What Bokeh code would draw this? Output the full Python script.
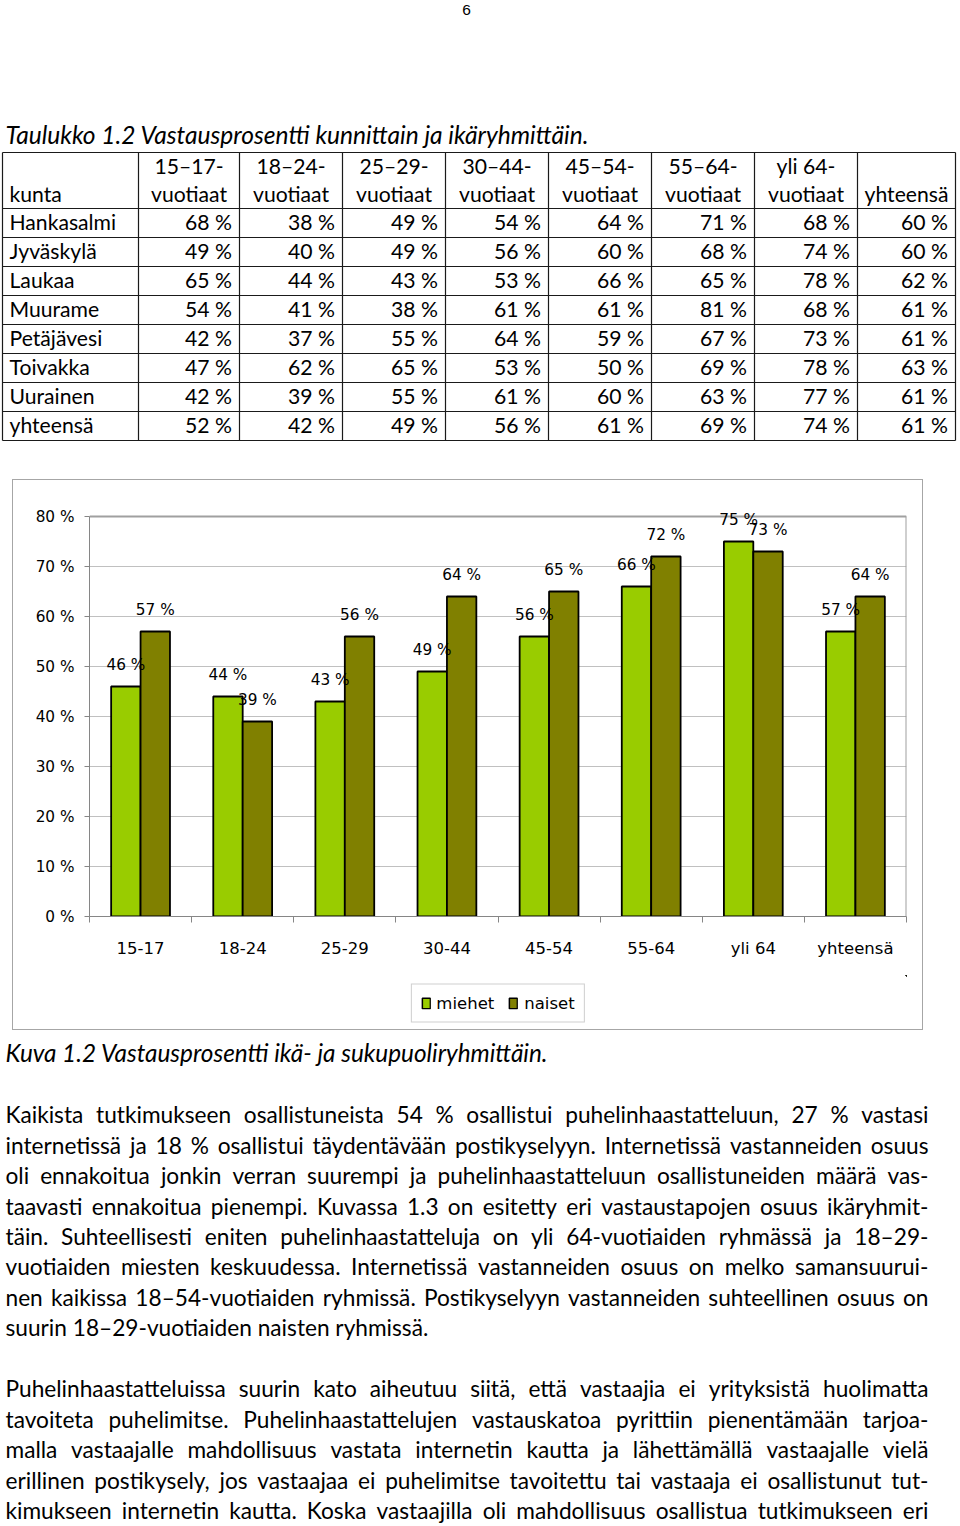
import glob
import os
import subprocess

import numpy as np
from bokeh.plotting import figure
from bokeh.layouts import column
from bokeh.models import (Range1d, FixedTicker, ColumnDataSource, LabelSet,
                          Legend, LegendItem, InlineStyleSheet)
from bokeh.core.properties import value
from bokeh.embed import file_html
from bokeh.resources import INLINE

# ------------------------------------------------------------------ data
page_number = "6"
table_caption = "Taulukko 1.2 Vastausprosentti kunnittain ja ikäryhmittäin."
header_top = ["", "15–17-", "18–24-", "25–29-", "30–44-", "45–54-", "55–64-", "yli 64-", ""]
header_bottom = ["kunta", "vuotiaat", "vuotiaat", "vuotiaat", "vuotiaat",
                 "vuotiaat", "vuotiaat", "vuotiaat", "yhteensä"]
kunnat = ["Hankasalmi", "Jyväskylä", "Laukaa", "Muurame", "Petäjävesi",
          "Toivakka", "Uurainen", "yhteensä"]
v15_17 = [68, 49, 65, 54, 42, 47, 42, 52]
v18_24 = [38, 40, 44, 41, 37, 62, 39, 42]
v25_29 = [49, 49, 43, 38, 55, 65, 55, 49]
v30_44 = [54, 56, 53, 61, 64, 53, 61, 56]
v45_54 = [64, 60, 66, 61, 59, 50, 60, 61]
v55_64 = [71, 68, 65, 81, 67, 69, 63, 69]
v_yli64 = [68, 74, 78, 68, 73, 78, 77, 74]
v_yht = [60, 60, 62, 61, 61, 63, 61, 61]
table_columns = [v15_17, v18_24, v25_29, v30_44, v45_54, v55_64, v_yli64, v_yht]

age_groups = ["15-17", "18-24", "25-29", "30-44", "45-54", "55-64", "yli 64", "yhteensä"]
miehet = [46, 44, 43, 49, 56, 66, 75, 57]
naiset = [57, 39, 56, 64, 65, 72, 73, 64]
series_names = ["miehet", "naiset"]
y_ticks = [0, 10, 20, 30, 40, 50, 60, 70, 80]

figure_caption = "Kuva 1.2 Vastausprosentti ikä- ja sukupuoliryhmittäin."
paragraph1 = [
    "Kaikista tutkimukseen osallistuneista 54 % osallistui puhelinhaastatteluun, 27 % vastasi",
    "internetissä ja 18 % osallistui täydentävään postikyselyyn. Internetissä vastanneiden osuus",
    "oli ennakoitua jonkin verran suurempi ja puhelinhaastatteluun osallistuneiden määrä vas-",
    "taavasti ennakoitua pienempi. Kuvassa 1.3 on esitetty eri vastaustapojen osuus ikäryhmit-",
    "täin. Suhteellisesti eniten puhelinhaastatteluja on yli 64-vuotiaiden ryhmässä ja 18–29-",
    "vuotiaiden miesten keskuudessa. Internetissä vastanneiden osuus on melko samansuurui-",
    "nen kaikissa 18–54-vuotiaiden ryhmissä. Postikyselyyn vastanneiden suhteellinen osuus on",
    "suurin 18–29-vuotiaiden naisten ryhmissä.",
]
paragraph2 = [
    "Puhelinhaastatteluissa suurin kato aiheutuu siitä, että vastaajia ei yrityksistä huolimatta",
    "tavoiteta puhelimitse. Puhelinhaastattelujen vastauskatoa pyrittiin pienentämään tarjoa-",
    "malla vastaajalle mahdollisuus vastata internetin kautta ja lähettämällä vastaajalle vielä",
    "erillinen postikysely, jos vastaajaa ei puhelimitse tavoitettu tai vastaaja ei osallistunut tut-",
    "kimukseen internetin kautta. Koska vastaajilla oli mahdollisuus osallistua tutkimukseen eri",
]

# ------------------------------------------------------------------ font metrics (for justification)
def _find_font(filenames, pattern):
    roots = ["/usr/share/fonts", "/usr/local/share/fonts",
             os.path.expanduser("~/.fonts"), os.path.expanduser("~/.local/share/fonts")]
    for fn in filenames:
        for r in roots:
            hits = glob.glob(os.path.join(r, "**", fn), recursive=True)
            if hits:
                return hits[0]
    try:
        out = subprocess.run(["fc-match", "-f", "%{file}", pattern], capture_output=True,
                             text=True, timeout=10).stdout.strip()
        if out and os.path.exists(out) and "lato" in out.lower():
            return out
    except Exception:
        pass
    return None


def _measurer(path):
    if path is None:
        return None
    try:
        from PIL import ImageFont
        f = ImageFont.truetype(path, 400)
        return lambda s, size: f.getlength(s) * size / 400.0
    except Exception:
        return None


meas_r = _measurer(_find_font(["Lato-Regular.ttf"], "Lato:style=Regular"))
meas_i = _measurer(_find_font(["Lato-Italic.ttf"], "Lato:style=Italic")) or meas_r


def fit(meas, text, target, default):
    if meas is None:
        return default
    w = meas(text, 100.0)
    return 100.0 * target / w if w > 0 else default


table_fs = float(np.mean([fit(meas_r, "Hankasalmi", 106, 20.5),
                          fit(meas_r, "Petäjävesi", 92, 20.5),
                          fit(meas_r, "vuotiaat", 77, 20.5),
                          fit(meas_r, "yhteensä", 84, 20.5)]))
para_fs = fit(meas_r, paragraph1[-1], 423, 20.5)
cap1_fs = fit(meas_i, table_caption, 583, 21)
cap2_fs = fit(meas_i, figure_caption, 542, 21)


def base(y, fs):
    """Anchor y for a wanted baseline y (the renderer sits text ~0.39 em low)."""
    return y - 0.39 * fs


TEXT_FONT = "Lato"
CHART_FONT = "DejaVu Sans"
PAGE_W = 958
COL_M, COL_N = "#99CC00", "#808000"

# ------------------------------------------------------------------ top part: caption + table
TOP_H = 479
top = figure(width=PAGE_W, height=TOP_H, x_range=Range1d(0, PAGE_W), y_range=Range1d(TOP_H, 0),
             output_backend="svg", toolbar_location=None, min_border=0,
             x_axis_location=None, y_axis_location=None)
top.grid.visible = False
top.outline_line_color = None

top.text(x=[466], y=[base(16, 15.5)], text=[page_number], text_font=value("Liberation Sans"),
         text_font_size=value("15.5px"), text_align="center", text_baseline="alphabetic",
         text_color="black")
top.text(x=[5], y=[base(143.5, cap1_fs)], text=[table_caption], text_font=value(TEXT_FONT),
         text_font_style="italic", text_font_size=value(f"{cap1_fs:.2f}px"),
         text_align="left", text_baseline="alphabetic", text_color="black")

col_edges = [2, 138, 239, 342, 445, 548, 651, 754, 857, 955]
row_edges = [152, 208, 237, 266, 295, 324, 353, 382, 411, 440]

seg = dict(x0=[], y0=[], x1=[], y1=[])
for y in row_edges:
    seg["x0"].append(col_edges[0]); seg["x1"].append(col_edges[-1]); seg["y0"].append(y); seg["y1"].append(y)
for x in col_edges:
    seg["x0"].append(x); seg["x1"].append(x); seg["y0"].append(row_edges[0]); seg["y1"].append(row_edges[-1])
top.segment(x0="x0", y0="y0", x1="x1", y1="y1", source=ColumnDataSource(seg),
            line_color="#1a1a1a", line_width=1.2)

hx, hy, ht, ha = [], [], [], []
for j in range(len(col_edges) - 1):
    cx = (col_edges[j] + col_edges[j + 1]) / 2
    if header_top[j]:
        hx.append(cx); hy.append(base(173.5, table_fs)); ht.append(header_top[j]); ha.append("center")
    if j == 0:
        hx.append(9); hy.append(base(201.5, table_fs)); ht.append(header_bottom[j]); ha.append("left")
    else:
        hx.append(cx); hy.append(base(201.5, table_fs)); ht.append(header_bottom[j]); ha.append("center")
for r, name in enumerate(kunnat):
    yb = base(row_edges[r + 1] + 22, table_fs)
    hx.append(9); hy.append(yb); ht.append(name); ha.append("left")
    for j, colvals in enumerate(table_columns):
        hx.append(col_edges[j + 2] - 7.5); hy.append(yb); ht.append(f"{colvals[r]} %"); ha.append("right")
top.text(x="x", y="y", text="t", text_align="a",
         source=ColumnDataSource(dict(x=hx, y=hy, t=ht, a=ha)),
         text_font=value(TEXT_FONT), text_font_size=value(f"{table_fs:.2f}px"),
         text_baseline="alphabetic", text_color="black")

# ------------------------------------------------------------------ chart
n = len(age_groups)
bw = 0.288
idx = np.arange(n)
lift = 4.3
y_top = y_ticks[-1]
head = 1.6  # extra room above the 80 % line so the value labels are not cut
src_m = ColumnDataSource(dict(x=idx + 0.5 - bw / 2, top=miehet,
                              ly=[v + lift for v in miehet], lt=[f"{v} %" for v in miehet]))
src_n = ColumnDataSource(dict(x=idx + 0.5 + bw / 2, top=naiset,
                              ly=[v + lift for v in naiset], lt=[f"{v} %" for v in naiset]))

CH_W = 911
chart = figure(width=CH_W, height=496, x_range=Range1d(0, n), y_range=Range1d(0, y_top + head),
               output_backend="svg", toolbar_location=None,
               min_border_left=77, min_border_right=17, min_border_top=29, min_border_bottom=59)
chart.border_fill_color = None
chart.background_fill_color = "white"
chart.outline_line_color = None

chart.xgrid.visible = False
chart.ygrid.grid_line_color = "#c0c0c0"
chart.ygrid.grid_line_width = 1

chart.yaxis.ticker = FixedTicker(ticks=y_ticks)
chart.yaxis.bounds = (0, y_top)
chart.yaxis.major_label_overrides = {t: f"{t} %" for t in y_ticks}
chart.yaxis.major_label_text_font = CHART_FONT
chart.yaxis.major_label_text_font_size = "15.3px"
chart.yaxis.major_label_text_color = "black"
chart.yaxis.major_tick_out = 5
chart.yaxis.major_tick_in = 0
chart.yaxis.minor_tick_line_color = None
chart.yaxis.major_label_standoff = 10
chart.yaxis.axis_line_color = "#868686"
chart.yaxis.major_tick_line_color = "#868686"

chart.xaxis.ticker = FixedTicker(ticks=[float(i) + 0.5 for i in idx],
                                 minor_ticks=[float(i) for i in range(n + 1)])
chart.xaxis.major_label_overrides = {float(i) + 0.5: g for i, g in enumerate(age_groups)}
chart.xaxis.major_label_text_font = CHART_FONT
chart.xaxis.major_label_text_font_size = "16.5px"
chart.xaxis.major_label_text_color = "black"
chart.xaxis.major_tick_out = 0
chart.xaxis.major_tick_in = 0
chart.xaxis.minor_tick_out = 6
chart.xaxis.minor_tick_in = 0
chart.xaxis.minor_tick_line_color = "#868686"
chart.xaxis.major_label_standoff = 16
chart.xaxis.axis_line_color = "#868686"

# plot-area border (top along the 80 % line, right along the last category edge)
chart.segment(x0=[0, n], y0=[y_top, 0], x1=[n, n], y1=[y_top, y_top],
              line_color="#a0a0a0", line_width=2)

chart.vbar(x="x", top="top", bottom=0, width=bw, source=src_m,
           fill_color=COL_M, line_color="black", line_width=1.8)
chart.vbar(x="x", top="top", bottom=0, width=bw, source=src_n,
           fill_color=COL_N, line_color="black", line_width=1.8)

for s in (src_m, src_n):
    chart.add_layout(LabelSet(x="x", y="ly", text="lt", source=s, text_align="center",
                              text_baseline="middle", text_font=value(CHART_FONT),
                              text_font_size=value("15.3px"), text_color="black"))

# legend strip (inside the same chart box); its bars lie outside its own view ranges,
# so only the legend entries show
legfig = figure(width=CH_W, height=55, x_range=Range1d(-3, -2), y_range=Range1d(-2, -1),
                output_backend="svg", toolbar_location=None,
                min_border_left=77, min_border_right=17, min_border_top=0, min_border_bottom=0,
                x_axis_location=None, y_axis_location=None)
legfig.grid.visible = False
legfig.outline_line_color = None
legfig.border_fill_color = None
legfig.background_fill_color = None
lm = legfig.vbar(x="x", top="top", bottom=0, width=bw, source=src_m,
                 fill_color=COL_M, line_color="black", line_width=1.5)
ln_ = legfig.vbar(x="x", top="top", bottom=0, width=bw, source=src_n,
                  fill_color=COL_N, line_color="black", line_width=1.5)
legend = Legend(items=[LegendItem(label=series_names[0], renderers=[lm]),
                       LegendItem(label=series_names[1], renderers=[ln_])],
                orientation="horizontal", location="center",
                label_text_font=CHART_FONT, label_text_font_size="16.5px",
                label_text_color="black",
                glyph_width=10, glyph_height=13, label_standoff=6, spacing=14,
                padding=9, margin=0, border_line_color="#a0a0a0", border_line_width=1,
                background_fill_color="white", background_fill_alpha=1)
legfig.add_layout(legend)

chart_box = column(chart, legfig, spacing=0, margin=(0, 0, 0, 12),
                   stylesheets=[InlineStyleSheet(
                       css=":host { outline: 1px solid #a6a6a6; outline-offset: -1px; }")])

# ------------------------------------------------------------------ bottom part: caption + text
BOT_Y0, BOT_H = 1030, 494
bottom = figure(width=PAGE_W, height=BOT_H, x_range=Range1d(0, PAGE_W),
                y_range=Range1d(BOT_Y0 + BOT_H, BOT_Y0),
                output_backend="svg", toolbar_location=None, min_border=0,
                x_axis_location=None, y_axis_location=None)
bottom.grid.visible = False
bottom.outline_line_color = None

bottom.text(x=[5], y=[base(1061.5, cap2_fs)], text=[figure_caption], text_font=value(TEXT_FONT),
            text_font_style="italic", text_font_size=value(f"{cap2_fs:.2f}px"),
            text_align="left", text_baseline="alphabetic", text_color="black")

LEFT, RIGHT = 5.0, 928.0
first_base, line_step = 1123.0, 30.46
lines = []
for k, ln in enumerate(paragraph1):
    lines.append((ln, first_base + k * line_step, k == len(paragraph1) - 1))
start2 = len(paragraph1) + 1
for k, ln in enumerate(paragraph2):
    lines.append((ln, first_base + (start2 + k) * line_step, False))

wx, wy, wt = [], [], []
for ln, yb, last in lines:
    yy = base(yb, para_fs)
    words = ln.split(" ")
    if meas_r is not None and not last and len(words) > 1:
        widths = [meas_r(w, para_fs) for w in words]
        gap = (RIGHT - LEFT - sum(widths)) / (len(words) - 1)
        if gap < 0.2 * para_fs:
            gap = 0.25 * para_fs
        x = LEFT
        for w, wd in zip(words, widths):
            wx.append(x); wy.append(yy); wt.append(w)
            x += wd + gap
    else:
        wx.append(LEFT); wy.append(yy); wt.append(ln)

bottom.text(x="x", y="y", text="t", source=ColumnDataSource(dict(x=wx, y=wy, t=wt)),
            text_font=value(TEXT_FONT), text_font_size=value(f"{para_fs:.2f}px"),
            text_align="left", text_baseline="alphabetic", text_color="black")

roots = [column(top, spacing=0), chart_box, column(bottom, spacing=0)]
open("out.html", "w").write(file_html(roots, INLINE))
